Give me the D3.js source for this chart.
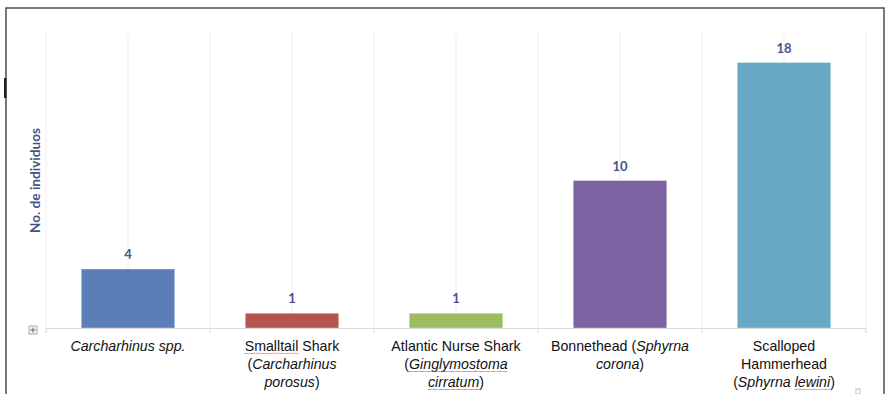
<!DOCTYPE html>
<html>
<head>
<meta charset="utf-8">
<script src="https://cdn.jsdelivr.net/npm/d3@7"></script>
<style>
  body { margin: 0; background: #fff; }
  svg { display: block; }
</style>
</head>
<body>
<div id="chart"></div>
<script>
// data
const categories = ["Carcharhinus spp.", "Smalltail Shark", "Atlantic Nurse Shark", "Bonnethead", "Scalloped Hammerhead"]
const values = [4, 1, 1, 10, 18]
const barColors = ["#5b7eb8", "#b4544f", "#9dbb5f", "#7c62a0", "#67a9c4"]
// tick label lines: [text, italic, spellcheck underline]
const tickLines = [
    [[["Carcharhinus spp.", true]]],
    [[["Smalltail", false, true], [" Shark", false]], [["(", false], ["Carcharhinus", true]], [["porosus", true], [")", false]]],
    [[["Atlantic Nurse Shark", false]], [["(", false], ["Ginglymostoma", true, true]], [["cirratum", true, true], [")", false]]],
    [[["Bonnethead (", false], ["Sphyrna", true]], [["corona", true], [")", false]]],
    [[["Scalloped", false]], [["Hammerhead", false]], [["(", false], ["Sphyrna ", true], ["lewini", true, true], [")", false]]]
]
const yMax = 20
const yTitle = "No. de individuos"

const W = 885, H = 394
const plotLeft = 46, plotRight = 866, plotTop = 33, base = 328

const svg = d3.select("#chart").append("svg")
    .attr("width", W)
    .attr("height", H)

// frame
svg.append("rect")
    .attr("x", 6).attr("y", 8)
    .attr("width", 878).attr("height", 400)
    .attr("fill", "none")
    .attr("stroke", "#4d4d4d")
    .attr("stroke-width", 1.5)
svg.append("rect")
    .attr("x", 4).attr("y", 78).attr("width", 2.5).attr("height", 20)
    .attr("fill", "#222")

const x = d3.scaleBand()
    .domain(categories)
    .range([plotLeft, plotRight])
    .paddingInner(0.43)
    .paddingOuter(0.215)

const y = d3.scaleLinear()
    .domain([0, yMax])
    .range([base, plotTop])

const step = x.step()
const centers = categories.map(c => x(c) + x.bandwidth() / 2)
const bounds = categories.map(c => x(c) + x.bandwidth() / 2 - step / 2).concat([plotRight])
const gridX = bounds.concat(centers)

// gridlines
svg.append("g")
    .selectAll("line")
    .data(gridX)
    .enter()
    .append("line")
    .attr("x1", d => d).attr("x2", d => d)
    .attr("y1", plotTop).attr("y2", base)
    .attr("stroke", "#efefef")
    .attr("stroke-width", 1)

// bars
svg.append("g")
    .selectAll("rect")
    .data(values)
    .enter()
    .append("rect")
    .attr("x", (d, i) => x(categories[i]))
    .attr("y", d => y(d))
    .attr("width", x.bandwidth())
    .attr("height", d => y(0) - y(d))
    .attr("fill", (d, i) => barColors[i])
    .attr("stroke", "#ffffff")
    .attr("stroke-opacity", 0.35)
    .attr("stroke-width", 1)

// axis line + ticks at boundaries
svg.append("line")
    .attr("x1", plotLeft).attr("x2", plotRight)
    .attr("y1", base + 0.5).attr("y2", base + 0.5)
    .attr("stroke", "#d9d9d9")
svg.append("g")
    .selectAll("line")
    .data(bounds)
    .enter()
    .append("line")
    .attr("x1", d => d).attr("x2", d => d)
    .attr("y1", base).attr("y2", base + 5)
    .attr("stroke", "#d9d9d9")

// data labels
svg.append("g")
    .selectAll("text")
    .data(values)
    .enter()
    .append("text")
    .attr("x", (d, i) => centers[i])
    .attr("y", d => y(d) - 10)
    .attr("text-anchor", "middle")
    .style("font-family", "Lato, 'Open Sans', sans-serif")
    .style("font-weight", 700)
    .style("font-size", "13px")
    .style("fill", "#44548a")
    .text(d => d)

// category labels
const tickG = svg.append("g")
    .style("font-family", "'Liberation Sans', Arial, sans-serif")
    .style("font-size", "14.2px")
    .style("fill", "#111")
const underlined = []
tickLines.forEach((lines, i) => {
    lines.forEach((segs, j) => {
        const t = tickG.append("text")
            .attr("x", centers[i])
            .attr("y", 351 + j * 18)
            .attr("text-anchor", "middle")
        segs.forEach(s => {
            const ts = t.append("tspan")
                .style("font-style", s[1] ? "italic" : "normal")
                .text(s[0])
            if (s[2]) underlined.push(ts.node())
        })
    })
})

// spellcheck squiggles
underlined.forEach(n => {
    const b = n.getBBox()
    const y0 = b.y + b.height - 1
    let p = "M" + b.x + "," + y0
    for (let xx = b.x; xx < b.x + b.width - 1; xx += 2) {
        p += "L" + (xx + 1) + "," + (y0 + 1) + "L" + (xx + 2) + "," + y0
    }
    svg.append("path")
        .attr("d", p)
        .attr("fill", "none")
        .attr("stroke", "#d9392f")
        .attr("stroke-width", 0.9)
        .attr("stroke-dasharray", "1,0.7")
})

// y title
svg.append("text")
    .attr("transform", "translate(40," + (plotTop + base) / 2 + ")rotate(-90)")
    .attr("text-anchor", "middle")
    .style("font-family", "Lato, 'Open Sans', sans-serif")
    .style("font-weight", 700)
    .style("font-size", "13.6px")
    .style("fill", "#44548a")
    .text(yTitle)

// little plus icon
const ic = svg.append("g").attr("transform", "translate(29,326)")
ic.append("rect").attr("width", 8).attr("height", 8)
    .attr("fill", "#f4f4f4").attr("stroke", "#9a9a9a").attr("stroke-width", 0.8)
ic.append("path").attr("d", "M4,1.5V6.5M1.5,4H6.5")
    .attr("stroke", "#555").attr("stroke-width", 0.9)
svg.append("rect")
    .attr("x", 856).attr("y", 389).attr("width", 4).attr("height", 5)
    .attr("fill", "none").attr("stroke", "#aaa").attr("stroke-width", 0.8)
</script>
</body>
</html>
